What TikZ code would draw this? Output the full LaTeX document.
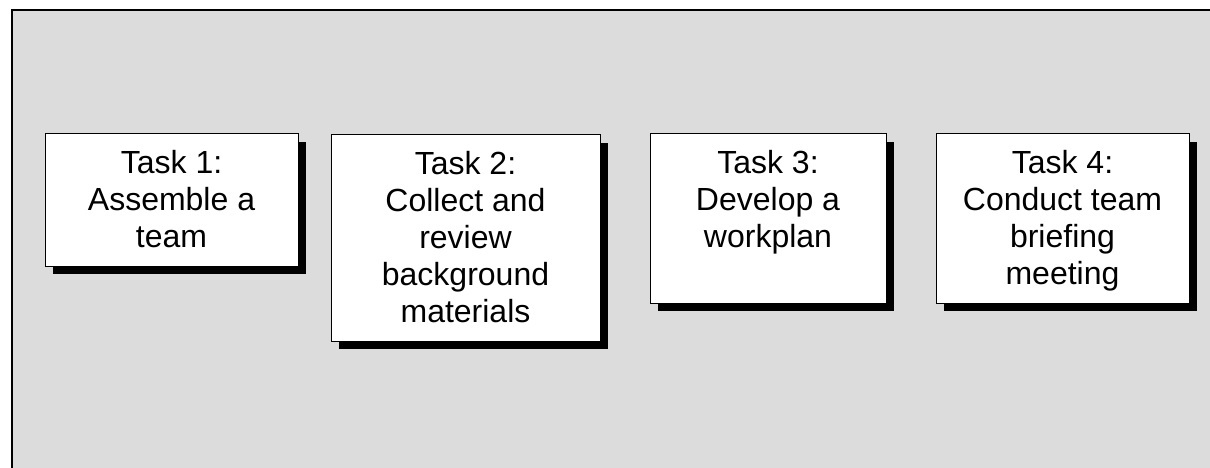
\documentclass[tikz,border=0pt]{standalone}
\usepackage{fontspec}
\setmainfont{Liberation Sans}
\definecolor{panelgray}{HTML}{DCDCDC}
\tikzset{
  taskbox/.style={draw=black, line width=1pt, fill=white, inner sep=0pt},
  taskshadow/.style={fill=black, draw=none},
  tasktext/.style={anchor=north, inner sep=0pt, align=center,
    font=\fontsize{32}{36.8}\selectfont}
}
\begin{document}
\begin{tikzpicture}[x=1pt,y=-1pt]
  \useasboundingbox (0,0) rectangle (1210,468);
  \begin{scope}
    \clip (0,0) rectangle (1210,468);
    % gray panel, its right and bottom edges run past the page
    \draw[fill=panelgray, draw=black, line width=1.8pt] (12,10) rectangle (1225,480);
  \end{scope}
  % drop shadows
  \fill[taskshadow] (53,142) rectangle (306,274);
  \fill[taskshadow] (339,143) rectangle (608,349);
  \fill[taskshadow] (658,142) rectangle (894,311);
  \fill[taskshadow] (944,142) rectangle (1197,311);
  % task boxes
  \node[taskbox, minimum width=253pt, minimum height=132pt] (t1) at (171.5,200) {};
  \node[taskbox, minimum width=269pt, minimum height=206pt] (t2) at (465.5,238) {};
  \node[taskbox, minimum width=236pt, minimum height=169pt] (t3) at (768,218.5) {};
  \node[taskbox, minimum width=253pt, minimum height=169pt] (t4) at (1062.5,218.5) {};
  % labels
  \node[tasktext] (l1) at ([yshift=-17pt]t1.north) {Task 1:\\Assemble a\\team};
  \node[tasktext] (l2) at ([yshift=-17pt]t2.north) {Task 2:\\Collect and\\review\\background\\materials};
  \node[tasktext] (l3) at ([yshift=-17pt]t3.north) {Task 3:\\Develop a\\workplan};
  \node[tasktext] (l4) at ([yshift=-17pt]t4.north) {Task 4:\\Conduct team\\briefing\\meeting};
\end{tikzpicture}
\end{document}
